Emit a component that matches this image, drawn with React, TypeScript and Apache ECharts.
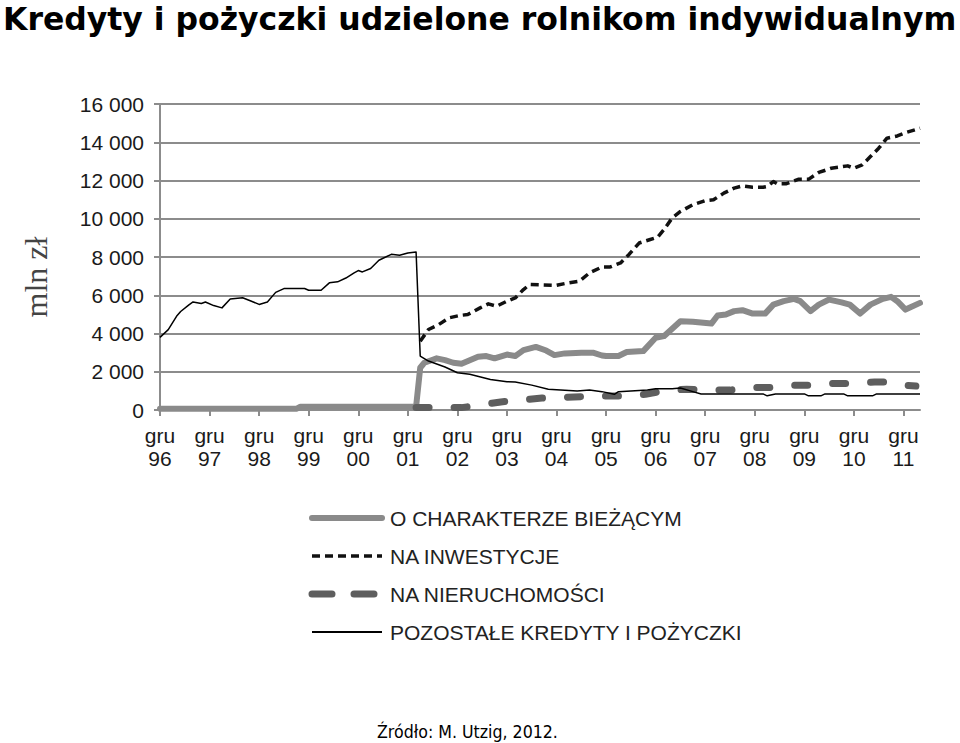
import React, { useEffect, useRef } from 'react';
import * as echarts from 'echarts';

const TITLE = 'Kredyty i pożyczki udzielone rolnikom indywidualnym';
const SOURCE = 'Źródło: M. Utzig, 2012.';
const Y_LABEL = 'mln zł';
const YEAR_LABELS = ['96', '97', '98', '99', '00', '01', '02', '03', '04', '05', '06', '07', '08', '09', '10', '11'];
const SERIES_NAMES = ['O CHARAKTERZE BIEŻĄCYM', 'NA INWESTYCJE', 'NA NIERUCHOMOŚCI', 'POZOSTAŁE KREDYTY I POŻYCZKI'];

// [months since Dec 1996, mln zł]
const biezacy: [number, number][] = [
  [0, 60], [33, 60], [34, 170], [62, 170], [63, 2210], [64, 2470], [67, 2700], [69, 2610], [71, 2470], [73, 2420],
  [77, 2780], [79, 2820], [81, 2700], [84, 2900], [86, 2820], [88, 3130], [91, 3300], [93.5, 3110], [95.5, 2870],
  [98, 2960], [102, 2990], [105, 2990], [107, 2850], [108, 2820], [111, 2820], [113, 3030], [117, 3080], [120, 3775],
  [122, 3860], [126, 4640], [129, 4610], [133.5, 4520], [135, 4940], [137, 4990], [139, 5170], [141, 5220],
  [143.5, 5040], [146.5, 5040], [148.5, 5510], [151, 5690], [153.5, 5810], [155, 5690], [157.5, 5170], [159.5, 5510],
  [162, 5775], [165, 5630], [167, 5510], [169.5, 5040], [172, 5510], [175, 5810], [177, 5915], [178.5, 5690],
  [180.5, 5250], [184, 5600],
];

const inwestycje: [number, number][] = [
  [63, 3600], [65, 4210], [67.5, 4470], [70, 4820], [72.5, 4940], [74.5, 4990], [77.5, 5340], [79.5, 5550],
  [81.5, 5425], [84, 5690], [86, 5860], [88, 6300], [89.5, 6560], [96, 6520], [98, 6610], [101.5, 6730], [104, 7170],
  [107, 7480], [109, 7480], [111.5, 7690], [113.5, 8120], [116, 8730], [118.5, 8900], [120.5, 9040], [122, 9430],
  [124, 10040], [126, 10380], [129, 10730], [132, 10950], [134, 10990], [136.5, 11340], [139, 11600], [141, 11720],
  [143.5, 11650], [146, 11650], [147, 11690], [148.5, 11945], [149.5, 11825], [151.5, 11825], [154.5, 12060],
  [157, 12060], [159.5, 12420], [162.5, 12640], [164.5, 12700], [166.5, 12765], [168, 12640], [170, 12820],
  [172, 13250], [174, 13690], [176, 14210], [178.5, 14330], [180.5, 14500], [184, 14730],
];

const nieruchomosci: [number, number][] = [
  [62, 125], [73, 125], [77.5, 260], [82.5, 420], [87.5, 520], [92.5, 625], [97.5, 660], [102.5, 700], [107, 730],
  [112.5, 730], [117.5, 820], [122.5, 1030], [127.5, 1080], [132.5, 1040], [138, 1040], [142.5, 1170], [147.5, 1170],
  [153, 1290], [157.5, 1290], [163, 1390], [168, 1390], [173, 1460], [176, 1460], [178, 1340], [183, 1250],
];

const pozostale: [number, number][] = [
  [0, 3800], [2, 4200], [4, 4900], [5, 5150], [7, 5500], [8, 5650], [10, 5570], [11, 5650], [13, 5460], [15, 5340],
  [17, 5800], [20, 5870], [22, 5700], [24, 5520], [26, 5650], [28, 6150], [30, 6350], [35, 6350], [36, 6260],
  [39, 6260], [41, 6650], [43, 6700], [45, 6900], [47, 7170], [48, 7290], [49, 7220], [51, 7400], [53, 7830],
  [56, 8140], [58, 8090], [60, 8210], [62, 8260], [63, 2820], [65, 2560], [69, 2250], [72, 1950], [75, 1870],
  [80, 1600], [84, 1480], [86, 1460], [90, 1300], [94, 1080], [98, 1030], [101, 990], [104, 1040], [107, 960],
  [110, 820], [111, 960], [118, 1040], [120, 1110], [124, 1110], [126, 1150], [129, 960], [131, 840], [146, 840],
  [147, 740], [149, 840], [156, 840], [157, 740], [160, 740], [161, 840], [165.5, 840], [166.5, 740], [172.5, 740],
  [173.5, 840], [184, 840],
];

function measure(text: string, font: string): number {
  const ctx = document.createElement('canvas').getContext('2d');
  if (!ctx) return 0;
  ctx.font = font;
  return ctx.measureText(text).width;
}

const GRID = '#8c8c8c';
const LABEL_FONT = 'Liberation Sans';

const LINE_STYLES = [
  { stroke: '#8a8a8a', lineWidth: 6, lineCap: 'round' as const, lineDash: null as number[] | null },
  { stroke: '#111111', lineWidth: 3.5, lineCap: 'butt' as const, lineDash: [8, 5] },
  { stroke: '#5e5e5e', lineWidth: 7, lineCap: 'round' as const, lineDash: [13, 25] },
  { stroke: '#000000', lineWidth: 1.5, lineCap: 'butt' as const, lineDash: null as number[] | null },
];

export default function App() {
  const ref = useRef<HTMLDivElement>(null);

  useEffect(() => {
    if (!ref.current) return;
    const chart = echarts.init(ref.current, null, { renderer: 'svg' });

    const titleSize = 32;
    const titleW = measure(TITLE, `bold ${titleSize}px "DejaVu Sans"`) || 1100;
    const titleScale = 954 / titleW;
    const srcSize = 18;
    const srcW = measure(SOURCE, `${srcSize}px "DejaVu Sans"`) || 200;
    const srcScale = 181 / srcW;

    const xTicks = YEAR_LABELS.map((_, i) => i * 12);
    const datasets = [biezacy, inwestycje, nieruchomosci, pozostale];

    const legendItems: any[] = [];
    SERIES_NAMES.forEach((name, i) => {
      const cy = 518 + i * 38;
      const ls = LINE_STYLES[i];
      const legendDash = i === 2 ? [20, 22] : ls.lineDash;
      legendItems.push({
        type: 'line',
        shape: { x1: 312, y1: cy, x2: 382, y2: cy },
        style: {
          stroke: ls.stroke,
          lineWidth: i === 3 ? 2 : ls.lineWidth,
          lineCap: ls.lineCap,
          lineDash: legendDash || undefined,
        },
      });
      legendItems.push({
        type: 'text',
        x: 390,
        y: cy,
        style: {
          text: name,
          fontFamily: LABEL_FONT,
          fontSize: 21,
          fill: '#222',
          verticalAlign: 'middle',
        },
      });
    });

    const option: any = {
      animation: false,
      backgroundColor: '#ffffff',
      grid: { left: 160, right: 40, top: 104, bottom: 333, containLabel: false },
      xAxis: {
        type: 'value',
        min: 0,
        max: 184,
        axisLine: { show: true, lineStyle: { color: GRID, width: 2 } },
        axisTick: { show: true, customValues: xTicks, length: 6, lineStyle: { color: GRID, width: 2 } },
        splitLine: { show: false },
        axisLabel: {
          customValues: xTicks,
          formatter: (v: number) => 'gru\n' + YEAR_LABELS[Math.round(v / 12)],
          fontFamily: LABEL_FONT,
          fontSize: 21,
          lineHeight: 23,
          color: '#1a1a1a',
          margin: 14,
        },
      },
      yAxis: {
        type: 'value',
        min: 0,
        max: 16000,
        interval: 2000,
        axisLine: { show: true, lineStyle: { color: GRID, width: 2 } },
        axisTick: { show: true, length: 6, lineStyle: { color: GRID, width: 2 } },
        splitLine: { show: true, lineStyle: { color: GRID, width: 2 } },
        axisLabel: {
          formatter: (v: number) => String(v).replace(/\B(?=(\d{3})+(?!\d))/g, ' '),
          fontFamily: LABEL_FONT,
          fontSize: 21,
          color: '#1a1a1a',
          margin: 16,
        },
      },
      series: SERIES_NAMES.map((name, i) => {
        const ls = LINE_STYLES[i];
        return {
          name,
          type: 'line',
          data: datasets[i],
          symbol: 'none',
          color: ls.stroke,
          lineStyle: {
            color: ls.stroke,
            width: ls.lineWidth,
            type: ls.lineDash || 'solid',
            cap: ls.lineCap,
            join: 'round',
          },
        };
      }),
      graphic: [
        {
          type: 'text',
          x: 3,
          y: 1,
          scaleX: titleScale,
          style: {
            text: TITLE,
            fontFamily: 'DejaVu Sans',
            fontWeight: 'bold',
            fontSize: titleSize,
            lineHeight: 36,
            fill: '#000',
            verticalAlign: 'top',
          },
        },
        {
          type: 'text',
          x: 36,
          y: 277,
          rotation: Math.PI / 2,
          style: {
            text: Y_LABEL,
            fontFamily: 'Liberation Serif',
            fontSize: 32,
            fill: '#444',
            align: 'center',
            verticalAlign: 'middle',
          },
        },
        {
          type: 'text',
          x: 377,
          y: 732,
          scaleX: srcScale,
          style: {
            text: SOURCE,
            fontFamily: 'DejaVu Sans',
            fontSize: srcSize,
            fill: '#000',
            verticalAlign: 'middle',
          },
        },
        ...legendItems,
      ],
    };

    chart.setOption(option);
    return () => chart.dispose();
  }, []);

  return <div ref={ref} style={{ position: 'absolute', left: 0, top: 0, width: 960, height: 743 }} />;
}
